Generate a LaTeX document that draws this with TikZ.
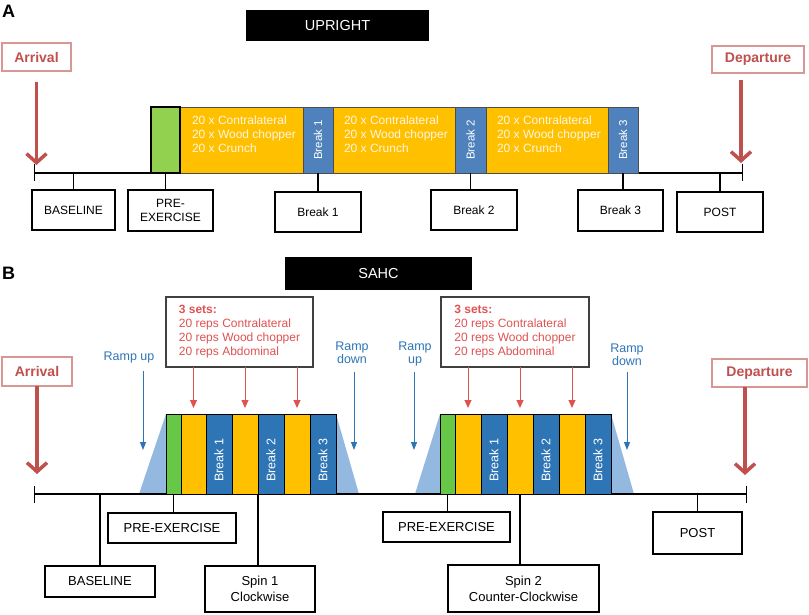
\documentclass[tikz,border=0pt]{standalone}
\usepackage{fontspec}
\setmainfont{Liberation Sans}
\usetikzlibrary{arrows.meta}
\definecolor{yel}{HTML}{FFC000}
\definecolor{blA}{HTML}{4F81BD}
\definecolor{blB}{HTML}{2E75B6}
\definecolor{grA}{HTML}{92D050}
\definecolor{grB}{HTML}{66C846}
\definecolor{ltb}{HTML}{93B9E0}
\definecolor{redA}{HTML}{C0504D}
\definecolor{pinkb}{HTML}{D99694}
\definecolor{setred}{HTML}{E05252}
\definecolor{rampblue}{HTML}{2E75B6}
\definecolor{cream}{HTML}{FFF6E0}
\newcommand{\mybox}[7]{\node[#6, minimum width={#4-#2}, minimum height={#5-#3}] (#1) at ({(#2+#4)/2},{(#3+#5)/2}) {#7};}
\begin{document}
\begin{tikzpicture}[x=1pt,y=-1pt,
  every node/.style={inner sep=0pt, outer sep=0pt},
  lblA/.style={draw=black, line width=1.1pt, fill=white, align=center, font=\fontsize{12}{14}\selectfont},
  lblB/.style={draw=black, line width=1.1pt, fill=white, align=center, font=\fontsize{13}{16}\selectfont},
  titlebox/.style={fill=black, text=white, font=\fontsize{14.5}{16}\selectfont},
  arrbox/.style={draw=pinkb, line width=1.1pt, fill=white, text=redA, font=\bfseries\fontsize{14}{16}\selectfont},
  bigarrow/.style={draw=redA, line width=3.5pt, -{Straight Barb[length=9pt,width=20pt]}},
  tline/.style={line width=1.2pt, {Bar[width=17pt]}-{Bar[width=17pt]}},
  tick/.style={line width=1.1pt},
  ytxt/.style={text=cream, align=left, font=\fontsize{12}{13.7}\selectfont, anchor=north west},
  brkA/.style={rotate=90, text=white, font=\fontsize{11.5}{13}\selectfont},
  brkB/.style={rotate=90, text=white, font=\fontsize{12.5}{14}\selectfont},
  yblkA/.style={fill=yel, draw=black!70, line width=0.8pt},
  bblkA/.style={fill=blA, draw=black!70, line width=0.8pt},
  yblkB/.style={fill=yel, draw=black, line width=0.8pt},
  bblkB/.style={fill=blB, draw=black, line width=0.8pt},
  gblkB/.style={fill=grB, draw=black, line width=0.8pt},
  setbox/.style={draw=black!75, line width=1.2pt, fill=white, align=left, text=setred, font=\fontsize{12}{14}\selectfont},
  setarrow/.style={draw=setred, line width=1pt, -{Triangle[length=8pt,width=7pt]}, shorten >=6pt},
  ramp/.style={text=rampblue, align=center, font=\fontsize{12.5}{13.5}\selectfont},
  ramparrow/.style={draw=rampblue, line width=1pt, -{Triangle[length=8pt,width=6pt]}},
  panel/.style={font=\bfseries\fontsize{18}{20}\selectfont, anchor=north west}
]
\useasboundingbox (0,0) rectangle (809,615);

%%%%%%%%%%%%%%%% PANEL A
\node[panel] (lA) at (2,5) {A};
\mybox{upr}{246}{10}{429}{41}{titlebox}{UPRIGHT}
\mybox{arrA}{2}{43}{71}{71}{arrbox}{Arrival}
\mybox{depA}{712}{46}{804}{73}{arrbox}{Departure}

\coordinate (tA0) at (34,173);
\coordinate (tA1) at (743,173);
\draw[tline] (tA0) -- (tA1);

\draw[bigarrow, shorten <=11pt, shorten >=8pt] (arrA.south) -- (arrA.south |- tA0);
\coordinate (dA) at (741,80);
\draw[bigarrow, shorten >=10pt] (dA) -- (dA |- tA1);

\mybox{yA1}{180}{107}{303}{173}{yblkA}{}
\mybox{yA2}{333}{107}{455}{173}{yblkA}{}
\mybox{yA3}{486}{107}{608}{173}{yblkA}{}
\mybox{bA1}{303}{107}{333}{173}{bblkA}{}
\mybox{bA2}{455}{107}{486}{173}{bblkA}{}
\mybox{bA3}{608}{107}{638}{173}{bblkA}{}
\mybox{gA}{151}{107}{180}{173}{fill=grA, draw=black, line width=2.2pt}{}

\node[ytxt] (tyA1) at ([xshift=12pt,yshift=-9pt]yA1.north west) {20 x Contralateral\\20 x Wood chopper\\20 x Crunch};
\node[ytxt] (tyA2) at ([xshift=11pt,yshift=-9pt]yA2.north west) {20 x Contralateral\\20 x Wood chopper\\20 x Crunch};
\node[ytxt] (tyA3) at ([xshift=11pt,yshift=-9pt]yA3.north west) {20 x Contralateral\\20 x Wood chopper\\20 x Crunch};
\node[brkA] (lbA1) at (bA1) {Break 1};
\node[brkA] (lbA2) at (bA2) {Break 2};
\node[brkA] (lbA3) at (bA3) {Break 3};

\mybox{bsA}{32}{190}{115}{230}{lblA}{BASELINE}
\mybox{prA}{128}{190}{213}{231}{lblA}{PRE-\\EXERCISE}
\mybox{k1A}{275}{192}{361}{232}{lblA}{Break 1}
\mybox{k2A}{431}{190}{517}{230}{lblA}{Break 2}
\mybox{k3A}{578}{190}{663}{231}{lblA}{Break 3}
\mybox{poA}{677}{192}{763}{232}{lblA}{POST}

\draw[tick] (bsA.north) -- (bsA.north |- tA0);
\draw[tick] (gA.south) -- (gA.south |- prA.north);
\draw[tick] (bA1.south) -- (bA1.south |- k1A.north);
\draw[tick] (bA2.south) -- (bA2.south |- k2A.north);
\draw[tick] (bA3.south) -- (bA3.south |- k3A.north);
\draw[tick] (poA.north) -- (poA.north |- tA1);

%%%%%%%%%%%%%%%% PANEL B
\node[panel] (lB) at (2,267) {B};
\mybox{sahc}{285}{257}{472}{290}{titlebox}{SAHC}
\mybox{arrB}{2}{357}{72}{386}{arrbox}{Arrival}
\mybox{depB}{712}{359}{807}{387}{arrbox}{Departure}

\coordinate (tB0) at (34,494);
\coordinate (tB1) at (747,494);

% trapezoids
\fill[ltb] (139,494) -- (166,414) -- (336,414) -- (359,494) -- cycle;
\fill[ltb] (415,494) -- (440,414) -- (611,414) -- (634,494) -- cycle;

\draw[tline] (tB0) -- (tB1);

\draw[bigarrow, shorten >=20pt] (arrB.south) -- (arrB.south |- tB0);
\coordinate (dB) at (745,387);
\draw[bigarrow, shorten >=19pt] (dB) -- (dB |- tB1);

% group 1
\mybox{gB1}{166}{414}{181}{494}{gblkB}{}
\mybox{yB1}{181}{414}{206}{494}{yblkB}{}
\mybox{kB1}{206}{414}{232}{494}{bblkB}{}
\mybox{yB2}{232}{414}{258}{494}{yblkB}{}
\mybox{kB2}{258}{414}{284}{494}{bblkB}{}
\mybox{yB3}{284}{414}{310}{494}{yblkB}{}
\mybox{kB3}{310}{414}{336}{494}{bblkB}{}
% group 2
\mybox{gB2}{440}{414}{455}{494}{gblkB}{}
\mybox{yB4}{455}{414}{481}{494}{yblkB}{}
\mybox{kB4}{481}{414}{507}{494}{bblkB}{}
\mybox{yB5}{507}{414}{533}{494}{yblkB}{}
\mybox{kB5}{533}{414}{559}{494}{bblkB}{}
\mybox{yB6}{559}{414}{585}{494}{yblkB}{}
\mybox{kB6}{585}{414}{611}{494}{bblkB}{}

\node[brkB] (lkB1) at ([yshift=-6pt]kB1.center) {Break 1};
\node[brkB] (lkB2) at ([yshift=-6pt]kB2.center) {Break 2};
\node[brkB] (lkB3) at ([yshift=-6pt]kB3.center) {Break 3};
\node[brkB] (lkB4) at ([yshift=-6pt]kB4.center) {Break 1};
\node[brkB] (lkB5) at ([yshift=-6pt]kB5.center) {Break 2};
\node[brkB] (lkB6) at ([yshift=-6pt]kB6.center) {Break 3};

% sets boxes
\mybox{s1}{166}{297}{313}{367}{setbox}{\textbf{3 sets:}\\20 reps Contralateral\\20 reps Wood chopper\\20 reps Abdominal}
\mybox{s2}{441}{297}{589}{367}{setbox}{\textbf{3 sets:}\\20 reps Contralateral\\20 reps Wood chopper\\20 reps Abdominal}
\draw[setarrow] (s1.south -| yB1.north) -- (yB1.north);
\draw[setarrow] (s1.south -| yB2.north) -- (yB2.north);
\draw[setarrow] (s1.south -| yB3.north) -- (yB3.north);
\draw[setarrow] (s2.south -| yB4.north) -- (yB4.north);
\draw[setarrow] (s2.south -| yB5.north) -- (yB5.north);
\draw[setarrow] (s2.south -| yB6.north) -- (yB6.north);

% ramps
\node[ramp] (ru1) at (129,357) {Ramp up};
\node[ramp] (rd1) at (352,353) {Ramp\\down};
\node[ramp] (ru2) at (415,354) {Ramp\\up};
\node[ramp] (rd2) at (627,355) {Ramp\\down};
\coordinate (ru1a) at (143,371); \coordinate (ru1b) at (143,450);
\coordinate (rd1a) at (354,372); \coordinate (rd1b) at (354,450);
\coordinate (ru2a) at (414,372); \coordinate (ru2b) at (414,450);
\coordinate (rd2a) at (627,372); \coordinate (rd2b) at (627,450);
\draw[ramparrow] (ru1a) -- (ru1b);
\draw[ramparrow] (rd1a) -- (rd1b);
\draw[ramparrow] (ru2a) -- (ru2b);
\draw[ramparrow] (rd2a) -- (rd2b);

% labels
\mybox{bsB}{45}{566}{155}{597}{lblB}{BASELINE}
\mybox{pB1}{108}{513}{236}{543}{lblB}{PRE-EXERCISE}
\mybox{sp1}{205}{566}{315}{612}{lblB}{Spin 1\\Clockwise}
\mybox{pB2}{383}{512}{510}{542}{lblB}{PRE-EXERCISE}
\mybox{sp2}{448}{565}{599}{612}{lblB}{Spin 2\\Counter-Clockwise}
\mybox{poB}{653}{512}{742}{554}{lblB}{POST}

\draw[tick] (bsB.north) -- (bsB.north |- tB0);
\draw[tick] (gB1.south) -- (gB1.south |- pB1.north);
\draw[tick] (yB2.south east) -- (yB2.south east |- sp1.north);
\draw[tick] (gB2.south) -- (gB2.south |- pB2.north);
\draw[tick] (yB5.south) -- (yB5.south |- sp2.north);
\draw[tick] (poB.north) -- (poB.north |- tB1);
\end{tikzpicture}
\end{document}
